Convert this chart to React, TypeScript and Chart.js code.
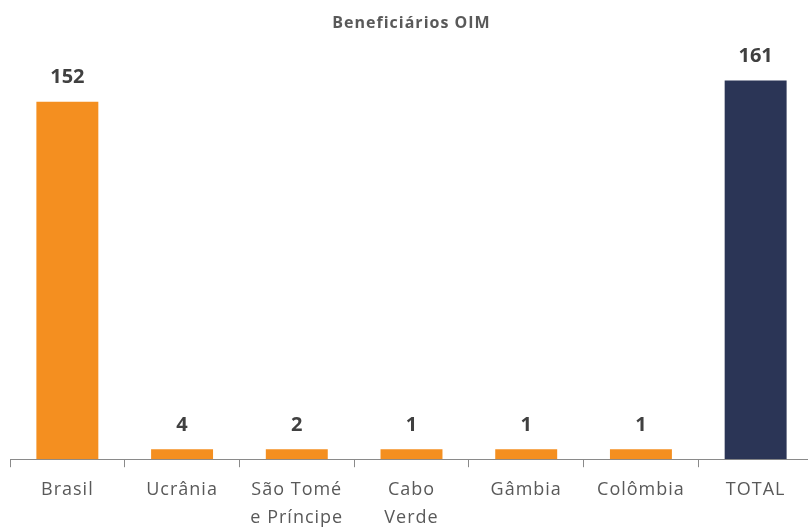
import React, { useEffect, useRef } from "react";
import { Chart, registerables } from "chart.js";

Chart.register(...registerables);

const categories: (string | string[])[] = [
  "Brasil",
  "Ucrânia",
  ["São Tomé", "e Príncipe"],
  ["Cabo", "Verde"],
  "Gâmbia",
  "Colômbia",
  "TOTAL",
];
const values: number[] = [152, 4, 2, 1, 1, 1, 161];
const barColors: string[] = ["#F48F20", "#F48F20", "#F48F20", "#F48F20", "#F48F20", "#F48F20", "#2B3556"];
const chartTitle = "Beneficiários OIM";

const spacing = {
  id: "spacing",
  beforeDraw(chart: any) {
    chart.ctx.letterSpacing = "1px";
  },
};

const valueLabels = {
  id: "valueLabels",
  afterDatasetsDraw(chart: any) {
    const ctx = chart.ctx;
    const meta = chart.getDatasetMeta(0);
    ctx.save();
    ctx.letterSpacing = "0px";
    ctx.font = "bold 20px 'Open Sans'";
    ctx.fillStyle = "#404040";
    ctx.textAlign = "center";
    ctx.textBaseline = "middle";
    meta.data.forEach((bar: any, i: number) => {
      ctx.fillText(String(values[i]), bar.x, bar.y - 24);
    });
    ctx.restore();
  },
};

export default function App() {
  const ref = useRef<HTMLCanvasElement | null>(null);
  useEffect(() => {
    if (!ref.current) return;
    const chart = new Chart(ref.current, {
      type: "bar",
      data: {
        labels: categories,
        datasets: [
          {
            data: values,
            backgroundColor: barColors,
            borderWidth: 0,
            barPercentage: 1,
            categoryPercentage: 0.54,
            minBarLength: 10,
          },
        ],
      },
      options: {
        animation: false,
        responsive: false,
        maintainAspectRatio: false,
        layout: { padding: { left: 10, right: 0, top: 0, bottom: 0 } },
        plugins: {
          legend: { display: false },
          tooltip: { enabled: false },
          title: {
            display: true,
            text: chartTitle,
            color: "#595959",
            font: { family: "'Open Sans'", size: 16, weight: "bold" },
            padding: { top: 14, bottom: 5 },
          },
        },
        scales: {
          x: {
            grid: {
              display: true,
              drawOnChartArea: false,
              drawTicks: true,
              tickLength: 8,
              offset: true,
              color: "#8a8a8a",
              lineWidth: 1,
            },
            border: { display: true, color: "#8a8a8a", width: 1 },
            ticks: {
              color: "#595959",
              font: { family: "'Open Sans'", size: 18, lineHeight: 1.55 },
              maxRotation: 0,
              autoSkip: false,
              padding: 9,
            },
          },
          y: {
            display: false,
            min: 0,
            max: 179,
          },
        },
      },
      plugins: [spacing, valueLabels],
    });
    return () => chart.destroy();
  }, []);
  return (
    <div style={{ position: "fixed", left: 0, top: 0, width: 808, height: 528, overflow: "hidden", background: "#fff" }}>
      <canvas ref={ref} width={813} height={541} style={{ width: 813, height: 541, display: "block" }} />
    </div>
  );
}
